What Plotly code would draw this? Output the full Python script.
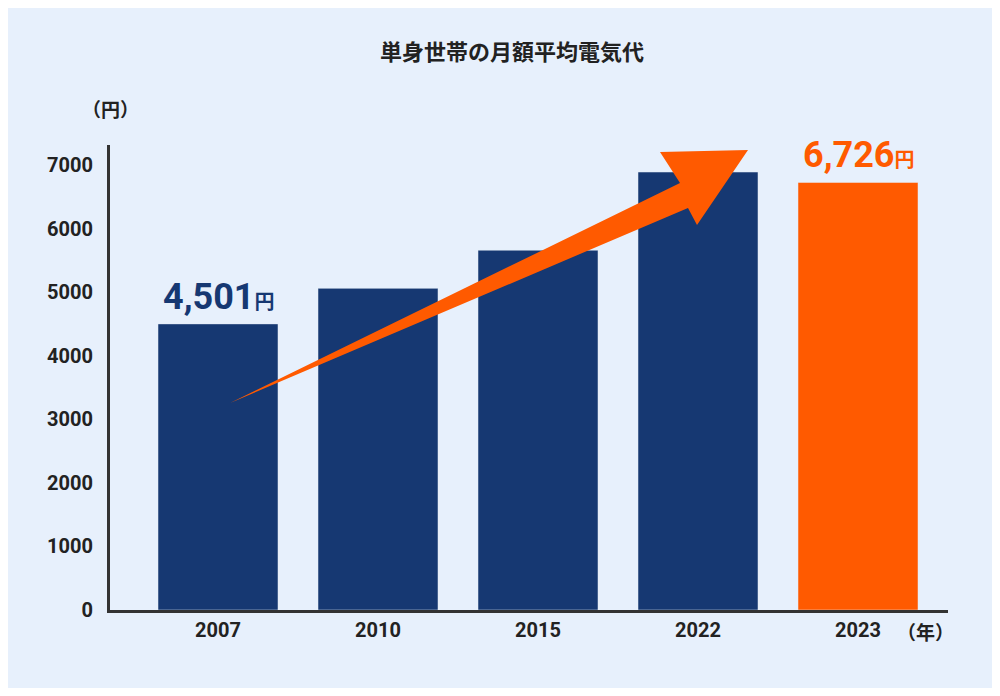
import plotly.graph_objects as go

years = ["2007", "2010", "2015", "2022", "2023"]
values = [4501, 5060, 5660, 6890, 6726]
colors = ["#163872", "#163872", "#163872", "#163872", "#FF5A00"]
yticks = [0, 1000, 2000, 3000, 4000, 5000, 6000, 7000]

xs = list(range(len(years)))
fig = go.Figure(go.Bar(x=xs, y=values, marker_color=colors, width=0.75, hoverinfo="skip"))

jp = "Noto Sans CJK JP"
fig.update_layout(
    width=984, height=680, showlegend=False,
    paper_bgcolor="#E7F0FC", plot_bgcolor="rgba(0,0,0,0)",
    margin=dict(l=102, r=44, t=137, b=78),
    font=dict(family="Roboto, " + jp, color="#222"),
    xaxis=dict(range=[-0.675, 4.5625], tickvals=xs, ticktext=[f"<b>{y}</b>" for y in years], showgrid=False,
               zeroline=False, showline=True, linecolor="#333", linewidth=3,
               tickfont=dict(size=20, family="Roboto", color="#222"), ticks=""),
    yaxis=dict(range=[0, 7315], tickvals=yticks, ticktext=[f"<b>{v}</b>" for v in yticks],
               showgrid=False, zeroline=False, showline=True, linecolor="#333", linewidth=3,
               tickfont=dict(size=20, family="Roboto", color="#222"), ticks="", ticklabelstandoff=10),
)
# arrow (decoration)
pts = [(0.075, 3256), (2.9375, 6324), (2.99375, 6056), (3.3125, 7236), (2.7625, 7205), (2.8875, 6717)]
path = "M " + " L ".join(f"{x},{y}" for x, y in pts) + " Z"
fig.add_shape(type="path", path=path, xref="x", yref="y", fillcolor="#FF5A00", line=dict(width=0))

def val_label(i, col):
    v = f"{values[i]:,}"
    fig.add_annotation(x=xs[i], y=values[i], yshift=4, yanchor="bottom", showarrow=False,
                       text=f"<b><span style='font-size:36px'>{v}</span><span style='font-size:20px;font-family:\"{jp}\"'>円</span></b>",
                       font=dict(color=col, family="Roboto"))
val_label(0, "#163872")
val_label(4, "#FF5A00")

fig.add_annotation(xref="paper", yref="paper", x=0.5 - 0.02, y=1, yshift=113, showarrow=False,
                   text="<b>単身世帯の月額平均電気代</b>", font=dict(size=22, family=jp, color="#222"))
fig.add_annotation(xref="paper", yref="paper", x=0, xshift=-30, y=1, yshift=52, showarrow=False,
                   text="<b>（円）</b>", font=dict(size=19, family=jp, color="#222"))
fig.add_annotation(xref="paper", yref="paper", x=1, xshift=8, y=0, yshift=-37, showarrow=False,
                   text="<b>（年）</b>", font=dict(size=19, family=jp, color="#222"))

fig.write_html("out.html")
